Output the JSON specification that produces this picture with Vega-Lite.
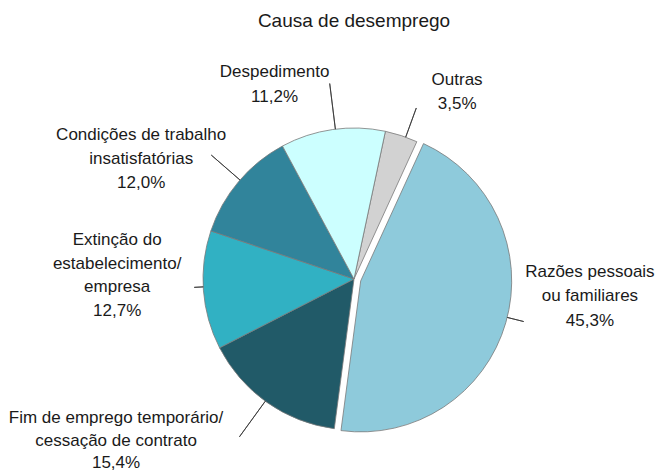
{
  "$schema": "https://vega.github.io/schema/vega-lite/v6.json",
  "autosize": "none",
  "width": 508,
  "height": 382,
  "padding": {"left": 100, "right": 49, "top": 88, "bottom": 0},
  "background": "white",
  "title": {
    "text": "Causa de desemprego",
    "frame": "group",
    "offset": 32,
    "font": "Liberation Sans, Arial, sans-serif",
    "fontSize": 19,
    "fontWeight": "normal",
    "color": "#1a1a1a"
  },
  "config": {"view": {"stroke": null}},
  "data": {
    "values": [
      {"causa": "Outras", "valor": 3.5, "ordem": 1, "rotulo": "Outras|3,5%"},
      {"causa": "Razões pessoais ou familiares", "valor": 45.3, "ordem": 2, "rotulo": "Razões pessoais|ou familiares|45,3%"},
      {"causa": "Fim de emprego temporário/cessação de contrato", "valor": 15.4, "ordem": 3, "rotulo": "Fim de emprego temporário/|cessação de contrato|15,4%"},
      {"causa": "Extinção do estabelecimento/empresa", "valor": 12.7, "ordem": 4, "rotulo": "Extinção do|estabelecimento/|empresa|12,7%"},
      {"causa": "Condições de trabalho insatisfatórias", "valor": 12.0, "ordem": 5, "rotulo": "Condições de trabalho|insatisfatórias|12,0%"},
      {"causa": "Despedimento", "valor": 11.2, "ordem": 6, "rotulo": "Despedimento|11,2%"}
    ]
  },
  "transform": [
    {"stack": "valor", "groupby": [], "sort": [{"field": "ordem", "order": "ascending"}], "as": ["v0", "v1"]}
  ],
  "encoding": {
    "theta": {"field": "v0", "type": "quantitative", "scale": {"domain": [0, 100.1], "range": [0.2094, 6.4926]}},
    "color": {
      "field": "causa",
      "type": "nominal",
      "legend": null,
      "scale": {
        "domain": ["Outras", "Razões pessoais ou familiares", "Fim de emprego temporário/cessação de contrato", "Extinção do estabelecimento/empresa", "Condições de trabalho insatisfatórias", "Despedimento"],
        "range": ["#D2D2D2", "#8ECADB", "#215A68", "#31B1C3", "#31849B", "#CCFFFF"]
      }
    }
  },
  "layer": [
    {
      "transform": [{"filter": "datum.ordem != 2"}],
      "mark": {"type": "arc", "radius": 151, "stroke": "#7a7a7a", "strokeWidth": 0.8},
      "encoding": {"theta2": {"field": "v1"}}
    },
    {
      "transform": [{"filter": "datum.ordem == 2"}],
      "mark": {"type": "arc", "radius": 151, "stroke": "#7a7a7a", "strokeWidth": 0.8, "xOffset": 6.7, "yOffset": 1.9},
      "encoding": {"theta2": {"field": "v1"}}
    },
    {
      "transform": [{"filter": "datum.ordem == 1"}],
      "mark": {"type": "arc", "radius": 182, "radius2": 151, "thetaOffset": 0.14, "theta2Offset": 0.14, "stroke": "#333333", "strokeWidth": 0.8, "fill": null},
      "encoding": {"theta2": {"field": "v0"}, "color": {"value": null}}
    },
    {
      "transform": [{"filter": "datum.ordem == 2"}],
      "mark": {"type": "arc", "radius": 168, "radius2": 151, "thetaOffset": 1.386, "theta2Offset": 1.386, "xOffset": 6.7, "yOffset": 1.9, "stroke": "#333333", "strokeWidth": 0.8, "fill": null},
      "encoding": {"theta2": {"field": "v0"}, "color": {"value": null}}
    },
    {
      "transform": [{"filter": "datum.ordem == 3"}],
      "mark": {"type": "arc", "radius": 195, "radius2": 151, "thetaOffset": 0.497, "theta2Offset": 0.497, "stroke": "#333333", "strokeWidth": 0.8, "fill": null},
      "encoding": {"theta2": {"field": "v0"}, "color": {"value": null}}
    },
    {
      "transform": [{"filter": "datum.ordem == 4"}],
      "mark": {"type": "arc", "radius": 160, "radius2": 151, "thetaOffset": 0.421, "theta2Offset": 0.421, "stroke": "#333333", "strokeWidth": 0.8, "fill": null},
      "encoding": {"theta2": {"field": "v0"}, "color": {"value": null}}
    },
    {
      "transform": [{"filter": "datum.ordem == 5"}],
      "mark": {"type": "arc", "radius": 189, "radius2": 151, "thetaOffset": 0.391, "theta2Offset": 0.391, "stroke": "#333333", "strokeWidth": 0.8, "fill": null},
      "encoding": {"theta2": {"field": "v0"}, "color": {"value": null}}
    },
    {
      "transform": [{"filter": "datum.ordem == 6"}],
      "mark": {"type": "arc", "radius": 197, "radius2": 151, "thetaOffset": 0.37, "theta2Offset": 0.37, "stroke": "#333333", "strokeWidth": 0.8, "fill": null},
      "encoding": {"theta2": {"field": "v0"}, "color": {"value": null}}
    },
    {
      "transform": [{"filter": "datum.ordem == 1"}],
      "mark": {"type": "text", "radius": 224, "thetaOffset": 0.269, "lineBreak": "|", "lineHeight": 23.5, "baseline": "middle", "align": "center", "font": "Liberation Sans, Arial, sans-serif", "fontSize": 17},
      "encoding": {"text": {"field": "rotulo"}, "color": {"value": "#1a1a1a"}}
    },
    {
      "transform": [{"filter": "datum.ordem == 2"}],
      "mark": {"type": "text", "radius": 236, "thetaOffset": 1.112, "lineBreak": "|", "lineHeight": 24.5, "baseline": "middle", "align": "center", "font": "Liberation Sans, Arial, sans-serif", "fontSize": 17},
      "encoding": {"text": {"field": "rotulo"}, "color": {"value": "#1a1a1a"}}
    },
    {
      "transform": [{"filter": "datum.ordem == 3"}],
      "mark": {"type": "text", "radius": 275.6, "thetaOffset": 0.911, "lineBreak": "|", "lineHeight": 22.5, "baseline": "middle", "align": "center", "font": "Liberation Sans, Arial, sans-serif", "fontSize": 17},
      "encoding": {"text": {"field": "rotulo"}, "color": {"value": "#1a1a1a"}}
    },
    {
      "transform": [{"filter": "datum.ordem == 4"}],
      "mark": {"type": "text", "radius": 240, "thetaOffset": 0.636, "lineBreak": "|", "lineHeight": 23.5, "baseline": "middle", "align": "center", "font": "Liberation Sans, Arial, sans-serif", "fontSize": 17},
      "encoding": {"text": {"field": "rotulo"}, "color": {"value": "#1a1a1a"}}
    },
    {
      "transform": [{"filter": "datum.ordem == 5"}],
      "mark": {"type": "text", "radius": 257, "thetaOffset": 0.271, "lineBreak": "|", "lineHeight": 24, "baseline": "middle", "align": "center", "font": "Liberation Sans, Arial, sans-serif", "fontSize": 17},
      "encoding": {"text": {"field": "rotulo"}, "color": {"value": "#1a1a1a"}}
    },
    {
      "transform": [{"filter": "datum.ordem == 6"}],
      "mark": {"type": "text", "radius": 221.6, "thetaOffset": 0.127, "lineBreak": "|", "lineHeight": 24.5, "baseline": "middle", "align": "center", "font": "Liberation Sans, Arial, sans-serif", "fontSize": 17},
      "encoding": {"text": {"field": "rotulo"}, "color": {"value": "#1a1a1a"}}
    }
  ]
}
